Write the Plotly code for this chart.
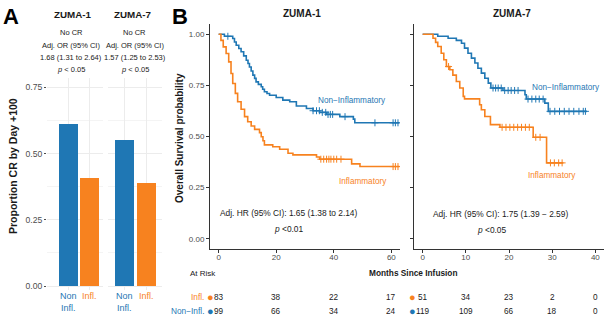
import numpy as np
import plotly.graph_objects as go

W, H = 604, 328
def PX(x): return x / W
def PY(y): return 1 - y / H

FONT = "Liberation Sans, Arial, sans-serif"
BLUE = "#1f77b4"
ORANGE = "#f7821f"
TXT = "#1a1a1a"
TICK = "#4d4d4d"

# ---------------- Panel A data ----------------
studies = ["ZUMA-1", "ZUMA-7"]
groups = ["Non-Infl.", "Infl."]
group_labels = ["Non<br>Infl.", "Infl."]
group_colors = [BLUE, ORANGE]
cr_z1 = [0.612, 0.406]
cr_z7 = [0.551, 0.390]
or_lines_z1 = ["No CR", "Adj. OR (95% CI)", "1.68 (1.31 to 2.64)", "<i>p</i> < 0.05"]
or_lines_z7 = ["No CR", "Adj. OR (95% CI)", "1.57 (1.25 to 2.53)", "<i>p</i> < 0.05"]
a_yticks = [0.0, 0.25, 0.5, 0.75]

# ---------------- Panel B data (KM step points) ----------------
z1_non_t = [0, 2.0, 4.9, 5.5, 6.1, 7.0, 7.8, 8.7, 9.6, 10.2, 10.7, 11.3, 11.9, 12.5, 13.0, 13.8,
            14.8, 15.3, 15.9, 16.8, 17.7, 20.0, 22.3, 24.7, 27.0, 30.5, 32.8, 35.1, 37.5, 42.1,
            46.8, 47.3, 62.8]
z1_non_s = [1.0, 0.99, 0.979, 0.962, 0.946, 0.93, 0.914, 0.894, 0.873, 0.857, 0.84, 0.82, 0.80,
            0.784, 0.767, 0.755, 0.743, 0.731, 0.719, 0.71, 0.702, 0.691, 0.678, 0.67, 0.649,
            0.637, 0.626, 0.618, 0.608, 0.597, 0.585, 0.567, 0.567]
z1_non_cens = [3.2, 32.8, 34.0, 35.0, 36.0, 37.2, 38.0, 38.8, 39.6, 43.9, 54.3, 60.6, 61.4, 62.3]

z1_inf_t = [0, 0.8, 1.6, 2.6, 3.5, 4.3, 4.9, 5.8, 6.6, 7.8, 9.0, 10.1, 11.3, 12.5, 14.2, 14.8,
            15.4, 15.9, 18.8, 21.2, 24.1, 25.8, 34.0, 35.1, 46.2, 49.1, 62.8]
z1_inf_s = [1.0, 0.97, 0.938, 0.906, 0.865, 0.808, 0.759, 0.711, 0.67, 0.633, 0.597, 0.572,
            0.551, 0.535, 0.519, 0.499, 0.479, 0.459, 0.45, 0.438, 0.418, 0.41, 0.40, 0.389,
            0.366, 0.353, 0.353]
z1_inf_cens = [35.5, 36.5, 37.5, 38.3, 39.0, 40.0, 41.0, 42.5, 60.6, 61.4, 62.3]

z7_non_t = [0, 3.5, 5.9, 7.8, 9.0, 9.7, 10.5, 11.3, 12.1, 12.8, 13.6, 14.4, 15.2, 15.8, 18.6,
            23.7, 24.0, 28.3, 29.1, 38.0]
z7_non_s = [1.0, 0.99, 0.98, 0.97, 0.956, 0.932, 0.907, 0.883, 0.859, 0.834, 0.81, 0.785,
            0.761, 0.737, 0.725, 0.704, 0.683, 0.663, 0.623, 0.623]
z7_non_cens = [16.3, 16.9, 17.5, 18.2, 19.0, 19.8, 20.5, 21.3, 22.1, 24.4, 25.3, 26.2, 27.0,
               27.9, 29.5, 30.6, 31.7, 32.8, 33.9, 35.0, 36.2, 37.2, 37.7]

z7_inf_t = [0, 2.4, 3.0, 3.5, 4.3, 4.9, 5.5, 6.3, 7.0, 7.8, 8.6, 9.4, 9.7, 13.2, 13.6, 14.4,
            15.7, 17.9, 25.6, 28.7, 32.6]
z7_inf_s = [1.0, 0.98, 0.96, 0.94, 0.907, 0.875, 0.842, 0.826, 0.80, 0.769, 0.737, 0.696,
            0.684, 0.655, 0.631, 0.598, 0.558, 0.545, 0.496, 0.371, 0.371]
z7_inf_cens = [6.0, 18.4, 19.3, 20.2, 21.1, 22.0, 22.9, 23.8, 24.7, 26.2, 27.2, 29.6, 30.5,
               31.5, 32.3]

risk_times_z1 = [0, 20, 40, 60]
risk_inf_z1 = [83, 38, 22, 17]
risk_non_z1 = [99, 66, 34, 24]
risk_times_z7 = [0, 10, 20, 30, 40]
risk_inf_z7 = [51, 34, 23, 2, 0]
risk_non_z7 = [119, 109, 66, 18, 0]

hr_z1 = ["Adj. HR (95% CI): 1.65 (1.38 to 2.14)", "<i>p</i> <0.01"]
hr_z7 = ["Adj. HR (95% CI): 1.75 (1.39 \u2212 2.59)", "<i>p</i> <0.05"]

fig = go.Figure()

# ---- Panel A bars ----
for ax, vals in (("x", cr_z1), ("x2", cr_z7)):
    fig.add_trace(go.Bar(x=[0, 1], y=vals, marker_color=group_colors, width=0.89,
                         marker_line_width=0, xaxis=ax, yaxis="y" if ax == "x" else "y2",
                         showlegend=False, hoverinfo="skip"))

# ---- Panel B KM curves ----
def step_at(ts, ss, t):
    ts = np.asarray(ts); ss = np.asarray(ss)
    i = np.searchsorted(ts, t, side="right") - 1
    return ss[i]

for xa, ya, curves in (("x3", "y3", [(z1_non_t, z1_non_s, z1_non_cens, BLUE),
                                       (z1_inf_t, z1_inf_s, z1_inf_cens, ORANGE)]),
                       ("x4", "y4", [(z7_non_t, z7_non_s, z7_non_cens, BLUE),
                                       (z7_inf_t, z7_inf_s, z7_inf_cens, ORANGE)])):
    for t, s, c, col in curves:
        fig.add_trace(go.Scatter(x=t, y=s, mode="lines", line=dict(color=col, width=1.6, shape="hv"),
                                 xaxis=xa, yaxis=ya, showlegend=False, hoverinfo="skip"))
        fig.add_trace(go.Scatter(x=c, y=step_at(t, s, c), mode="markers",
                                 marker=dict(symbol="cross-thin", size=5, line=dict(color=col, width=1)),
                                 xaxis=xa, yaxis=ya, showlegend=False, hoverinfo="skip"))

tickfont = dict(family=FONT, size=8, color=TICK)
a_tickfont = dict(family=FONT, size=8.6, color=TICK)
a_yrange = [-0.0151, 0.785]
grid = "#ececec"
layout = dict(
    width=W, height=H, margin=dict(l=0, r=0, t=0, b=0),
    paper_bgcolor="white", plot_bgcolor="white", bargap=0,
    font=dict(family=FONT, size=9, color=TXT),
    xaxis=dict(domain=[PX(47), PX(103)], range=[-0.995, 1.634], tickvals=[0, 1], showticklabels=False,
               showgrid=True, gridcolor=grid, gridwidth=1, zeroline=False, fixedrange=True),
    yaxis=dict(domain=[PY(290), PY(78)], range=a_yrange, tickvals=a_yticks, tickformat=".2f",
               ticks="outside", ticklen=2, tickcolor=TICK, tickfont=a_tickfont,
               showgrid=True, gridcolor=grid, zeroline=False,
               minor=dict(dtick=0.125, tick0=0.125, showgrid=True, gridcolor="#f4f4f4")),
    xaxis2=dict(domain=[PX(108), PX(162)], range=[-0.76, 1.73], tickvals=[0, 1], showticklabels=False,
                showgrid=True, gridcolor=grid, zeroline=False, anchor="y2"),
    yaxis2=dict(domain=[PY(290), PY(78)], range=a_yrange, tickvals=a_yticks, showticklabels=False,
                showgrid=True, gridcolor=grid, zeroline=False, anchor="x2",
                minor=dict(dtick=0.125, tick0=0.125, showgrid=True, gridcolor="#f4f4f4")),
    xaxis3=dict(domain=[PX(210), PX(400)], range=[-3, 63], tickvals=[0, 20, 40, 60], anchor="y3",
                ticks="outside", ticklen=3, tickcolor="#333", tickfont=tickfont, ticklabelstandoff=-3,
                showline=True, linecolor="#333", linewidth=1, showgrid=False, zeroline=False),
    yaxis3=dict(domain=[PY(249), PY(24)], range=[-0.05, 1.05], tickvals=[0, 0.25, 0.5, 0.75, 1.0],
                tickformat=".2f", anchor="x3", ticks="outside", ticklen=3, tickcolor="#333",
                tickfont=tickfont, showline=True, linecolor="#333", linewidth=1,
                showgrid=False, zeroline=False),
    xaxis4=dict(domain=[PX(414), PX(604)], range=[-2, 42], tickvals=[0, 10, 20, 30, 40], anchor="y4",
                ticks="outside", ticklen=3, tickcolor="#333", tickfont=tickfont, ticklabelstandoff=-3,
                showline=True, linecolor="#333", linewidth=1, showgrid=False, zeroline=False),
    yaxis4=dict(domain=[PY(249), PY(24)], range=[-0.05, 1.05], tickvals=[0, 0.25, 0.5, 0.75, 1.0],
                showticklabels=False, anchor="x4", ticks="outside", ticklen=3, tickcolor="#333",
                showline=True, linecolor="#333", linewidth=1, showgrid=False, zeroline=False),
)
fig.update_layout(**layout)

ann = []
def A(text, x, y, size=9, color=TXT, bold=False, xanchor="center", xref="paper", angle=0, yanchor="middle"):
    if bold:
        text = "<b>" + text + "</b>"
    ann.append(dict(text=text, x=x, y=y, xref=xref, yref="paper", showarrow=False,
                    xanchor=xanchor, yanchor=yanchor, textangle=angle,
                    font=dict(family=FONT, size=size, color=color)))

# panel letters
A("A", PX(1), PY(16), size=22, bold=True, xanchor="left", color="black")
A("B", PX(170), PY(16), size=22, bold=True, xanchor="left", color="black")

# panel A titles and OR text
for cx, tx, st, lines in ((73, 71, studies[0], or_lines_z1), (133, 134.5, studies[1], or_lines_z7)):
    A(st, PX(cx), PY(14), size=9.8, bold=True)
    for i, ln in enumerate(lines):
        A(ln, PX(tx), PY(33 + 12.3 * i), size=7.5)

# panel A x labels
for ax in ("x", "x2"):
    for i, lab in enumerate(group_labels):
        ann.append(dict(text=lab, x=i, y=PY(289), xref=ax, yref="paper", showarrow=False,
                        xanchor="center", yanchor="top",
                        font=dict(family=FONT, size=9, color=group_colors[i])))

A("Proportion CR by Day +100", PX(13), PY(166), size=10.5, bold=True, angle=-90)

# panel B titles
A(studies[0], PX(302), PY(13), size=10, bold=True)
A(studies[1], PX(512), PY(13), size=10, bold=True)
A("Overall Survival probability", PX(180), PY(138), size=10, bold=True, angle=-90)

# curve labels
A("Non\u2212Inflammatory", PX(352), PY(100), size=8.2, color=BLUE)
A("Inflammatory", PX(363), PY(181), size=8.2, color=ORANGE)
A("Non\u2212Inflammatory", PX(566), PY(87), size=8.2, color=BLUE)
A("Inflammatory", PX(552), PY(175), size=8.2, color=ORANGE)

# HR text
A(hr_z1[0], PX(289), PY(213), size=8.4)
A(hr_z1[1], PX(289), PY(229), size=8.4)
A(hr_z7[0], PX(500), PY(214), size=8.4)
A(hr_z7[1], PX(492), PY(230), size=8.4)

# at-risk table
A("At Risk", PX(203), PY(273), size=8)
A("Months Since Infusion", PX(413), PY(273), size=8.3, bold=True)
A("Infl.", PX(206), PY(297), size=8.3, color=ORANGE, xanchor="right")
A("Non\u2212Infl.", PX(206), PY(311), size=8.3, color=BLUE, xanchor="right")
for dx in (210, 412):
    A("\u25cf", PX(dx), PY(297), size=11, color=ORANGE)
    A("\u25cf", PX(dx), PY(311), size=11, color=BLUE)

for xa, times, inf, non in (("x3", risk_times_z1, risk_inf_z1, risk_non_z1),
                            ("x4", risk_times_z7, risk_inf_z7, risk_non_z7)):
    for t, a, b in zip(times, inf, non):
        for val, yy in ((a, 297), (b, 311)):
            ann.append(dict(text=str(val), x=t, y=PY(yy), xref=xa, yref="paper", showarrow=False,
                            xanchor="center", yanchor="middle",
                            font=dict(family=FONT, size=8.2, color=TXT)))

fig.update_layout(annotations=ann)
fig.write_html("out.html")
